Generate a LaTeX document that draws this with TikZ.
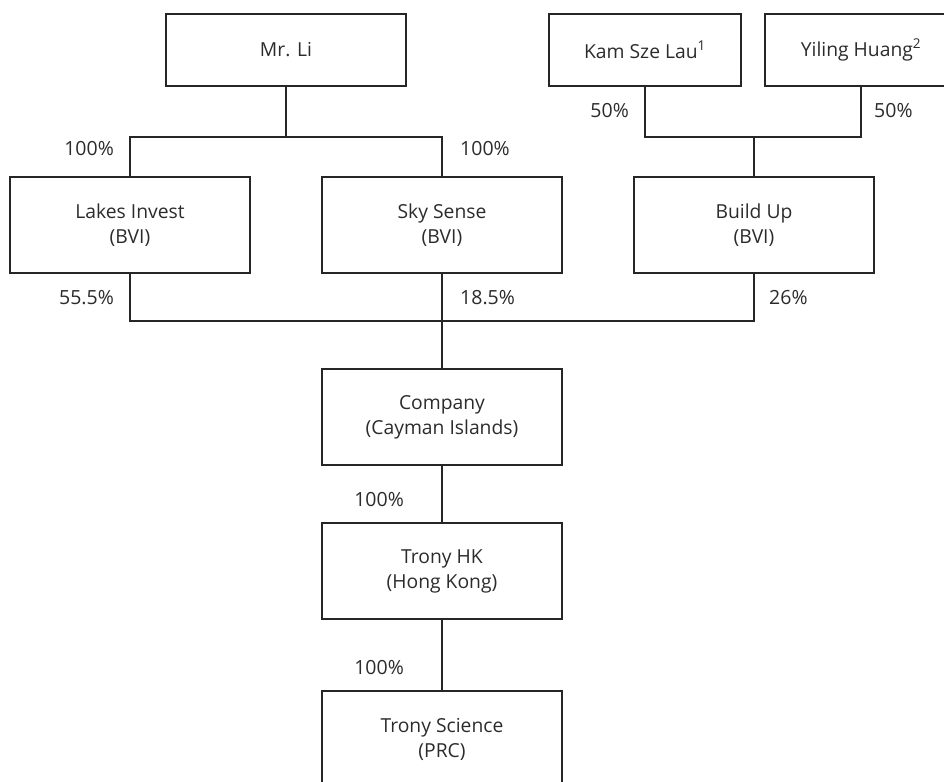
\documentclass[tikz,border=0pt]{standalone}
\usepackage{fontspec}
\setmainfont{Open Sans}
\definecolor{linec}{HTML}{262626}
\definecolor{textc}{HTML}{2B2B2B}
\begin{document}
\begin{tikzpicture}[x=1pt,y=-1pt,
  box/.style={draw=linec, line width=1.8pt, minimum width=240pt, minimum height=96pt,
    align=center, inner sep=0pt, text=textc, font=\fontsize{19.3}{25}\selectfont},
  topbox/.style={box, minimum height=72pt},
  pct/.style={inner sep=0pt, text=textc, font=\fontsize{19.5}{25}\selectfont},
  conn/.style={draw=linec, line width=1.8pt}]
\useasboundingbox (0,0) rectangle (944,781);
\clip (0,0) rectangle (944,781);
% boxes
\node[topbox] (mrli) at (286,50) {Mr. Li};
\node[topbox, minimum width=192pt] (kam) at (645,50) {Kam Sze Lau\textsuperscript{1}};
\node[topbox, minimum width=192pt] (yil) at (861,50) {Yiling Huang\textsuperscript{2}};
\node[box] (lakes) at (130,225) {Lakes Invest\\(BVI)};
\node[box] (sky) at (442,225) {Sky Sense\\(BVI)};
\node[box] (build) at (754,225) {Build Up\\(BVI)};
\node[box] (comp) at (442,417) {Company\\(Cayman Islands)};
\node[box] (hk) at (442,571) {Trony HK\\(Hong Kong)};
\node[box] (sci) at (442,739) {Trony Science\\(PRC)};
% junction coordinates
\coordinate (j1) at (286,137);
\coordinate (j2) at (754,137);
\coordinate (j3) at (442,321);
% connectors
\draw[conn] (mrli.south) -- (j1);
\draw[conn] (lakes.north) |- (j1) -| (sky.north);
\draw[conn] (kam.south) |- (j2) -| (yil.south);
\draw[conn] (j2) -- (build.north);
\draw[conn] (lakes.south) |- (j3) -| (build.south);
\draw[conn] (sky.south) -- (comp.north);
\draw[conn] (comp.south) -- (hk.north);
\draw[conn] (hk.south) -- (sci.north);
% labels
\node[pct, anchor=east] (p1) at (114,149) {100\%};
\node[pct, anchor=west] (p2) at (460,149) {100\%};
\node[pct, anchor=east] (p3) at (629,111) {50\%};
\node[pct, anchor=west] (p4) at (874,111) {50\%};
\node[pct, anchor=east] (p5) at (114,298) {55.5\%};
\node[pct, anchor=west] (p6) at (460,298) {18.5\%};
\node[pct, anchor=west] (p7) at (769,298) {26\%};
\node[pct, anchor=east] (p8) at (404,500) {100\%};
\node[pct, anchor=east] (p9) at (404,668) {100\%};
\end{tikzpicture}
\end{document}
